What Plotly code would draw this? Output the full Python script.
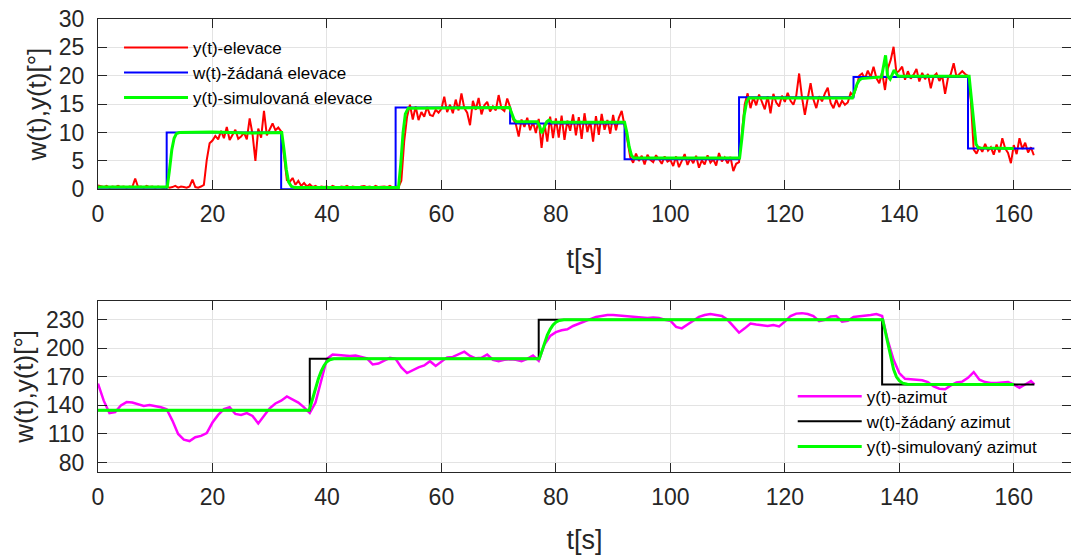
import numpy as np
import plotly.graph_objects as go

# ---------------- elevation (top panel) ----------------
t_elev = np.arange(0, 164, 0.5)  # sampling times [s]

y_elev = [
    0.7, 0.5, 0.4, 0.6, 0.3, 0.5, 0.4, 0.6, 0.4, 0.5, 0.3, 0.5, 0.4, 1.9, 0.4, 0.5, 0.3, 0.6, 0.4, 0.5,
    0.3, 0.5, 0.4, 0.2, 0.5, 0.3, 0.4, 0.6, 0.3, 0.5, 0.4, 0.3, 0.5, 1.7, 0.4, 0.3, 0.5, 0.8, 5.2, 8.1,
    8.6, 9.4, 8.8, 10.3, 9.0, 11.0, 8.7, 9.6, 10.5, 8.9, 9.3, 10.0, 8.8, 12.5, 9.7, 5.0, 10.7, 9.1, 13.8, 9.5,
    10.5, 11.6, 10.4, 10.9, 10.2, 6.3, 1.6, 1.3, 2.0, 0.8, 1.5, 0.6, 1.1, 0.5, 0.9, 0.4, 0.6, 0.3, 0.5, 0.4,
    0.5, 0.3, 0.6, 0.4, 0.3, 0.5, 0.4, 0.6, 0.3, 0.5, 0.4, 0.3, 0.5, 0.6, 0.4, 0.5, 0.3, 0.6, 0.4, 0.5,
    0.5, 0.4, 0.6, 0.3, 0.5, 0.4, 1.5, 8.5, 12.8, 14.9, 12.3, 14.6, 12.2, 13.6, 12.8, 14.5, 13.1, 12.9, 14.0, 13.5,
    14.2, 16.3, 13.6, 14.9, 13.4, 15.8, 13.9, 16.9, 14.3, 13.5, 11.3, 15.6, 14.0, 16.1, 13.2, 14.8, 15.4, 13.7, 14.6, 13.9,
    16.6, 14.2, 13.8, 16.0, 14.5, 12.4, 11.5, 9.3, 12.3, 11.0, 12.6, 10.4, 11.9, 9.9, 12.4, 7.3, 11.6, 8.4, 12.8, 9.0,
    12.5, 9.1, 13.0, 8.7, 12.1, 10.3, 13.2, 9.5, 12.7, 8.9, 13.4, 10.1, 12.0, 8.4, 12.9, 9.6, 13.3, 10.5, 12.2, 9.8,
    13.1, 10.4, 12.6, 13.8, 11.5, 8.6, 5.6, 4.7, 6.3, 5.0, 5.9, 4.4, 6.1, 5.2, 4.8, 6.0, 5.3, 4.5, 5.8, 4.9,
    5.2, 4.1, 5.8, 3.9, 5.0, 6.2, 4.3, 5.5, 4.6, 5.9, 3.8, 5.1, 4.4, 6.0, 4.7, 5.3, 4.2, 6.4, 4.9, 5.6,
    4.6, 5.7, 3.2, 4.5, 4.8, 10.5, 15.0, 16.9, 14.3, 16.2, 14.8, 16.7, 15.2, 14.1, 16.4, 13.4, 16.8, 15.3, 14.6, 16.5,
    15.4, 17.0, 15.6, 14.9, 16.5, 20.4, 16.2, 13.1, 16.0, 18.7, 15.8, 14.3, 16.4, 15.5, 16.9, 17.9, 15.2, 14.3, 15.8, 14.5,
    15.6, 14.9, 15.3, 17.0, 16.5, 18.0, 20.0, 20.4, 19.5, 20.9, 19.8, 21.6, 19.6, 18.7, 20.6, 17.5, 21.3, 22.8, 25.1, 20.5,
    20.9, 21.6, 19.3, 20.8, 19.5, 20.2, 21.2, 19.0, 20.5, 19.4, 20.3, 17.8, 19.9, 20.4, 19.1, 20.0, 16.8, 19.6, 20.3, 22.2,
    19.8, 20.4, 20.8, 20.3, 20.0, 15.7, 7.0, 6.3, 7.5, 6.6, 8.0, 6.8, 7.4, 6.1, 7.9, 6.5, 9.0, 7.2, 6.4, 4.6,
    7.8, 6.2, 9.0, 7.1, 8.2, 6.5, 7.4, 6.0,
]

# setpoint steps (held until the next time)
t_w_elev = [0, 12, 32, 52, 72, 92, 112, 132, 152, 163.6]
w_elev = [0, 10, 0, 14.4, 11.6, 5.3, 16.2, 19.8, 7.2, 7.2]

# simulated model response
t_sim_elev = [0, 12.1, 12.5, 12.9, 13.3, 13.7, 14.2, 20, 26, 32.1, 32.5, 32.9, 33.3, 33.8, 34.4,
              52.5, 52.9, 53.3, 53.7, 54.2, 71.9, 72.3, 72.7, 73.1, 76.8, 77.2, 77.5, 77.9, 78.4,
              78.8, 79.3, 92.0, 92.4, 92.8, 93.2, 93.6, 112.1, 112.5, 112.9, 113.3, 113.7, 131.8,
              132.2, 132.6, 133.0, 133.4, 136.9, 137.2, 137.6, 137.95, 138.4, 139.1, 139.8, 152.2,
              152.6, 153.0, 153.4, 153.8, 160]
sim_elev = [0.4, 0.4, 3.5, 7.0, 9.0, 9.8, 10.0, 10.1, 9.9, 10.0, 7.0, 3.5, 1.3, 0.5, 0.3,
            0.3, 4.5, 10.0, 13.3, 14.3, 14.4, 13.3, 12.3, 11.9, 11.9, 11.0, 9.9, 10.8, 11.9,
            12.2, 11.8, 11.8, 10.0, 7.5, 6.0, 5.5, 5.5, 9.0, 13.0, 15.3, 16.1, 16.1,
            17.2, 18.5, 19.2, 19.5, 19.8, 21.5, 23.6, 20.0, 19.4, 21.0, 19.9, 19.9,
            16.0, 11.0, 8.0, 7.3, 7.2]

# ---------------- azimuth (bottom panel) ----------------
t_az = list(range(164)) + [163.6]
y_az = [
    163, 145, 132, 133, 140, 143.5, 143, 141, 139.5, 140.5,
    139.5, 138, 136, 124, 110, 104, 102.5, 106.5, 108, 111,
    122, 130, 136, 138, 131, 130, 132, 129, 121, 129,
    137, 142, 145, 149.5, 146, 143, 138, 132, 143, 165,
    189, 193.5, 193, 192.5, 192, 192.5, 191, 189.5, 183, 184,
    187, 190, 189, 180, 174, 177, 180, 182, 186.5, 181.5,
    186, 190.5, 191, 194, 196.5, 192, 189.5, 190, 193.5, 188,
    186.5, 188, 188.5, 188, 186.5, 189, 192.5, 187, 204, 213,
    217, 219, 220, 223.5, 226, 228, 230.5, 233, 234, 235,
    235, 234.5, 234, 233.5, 233, 232.5, 232, 232.5, 232, 230,
    229, 222.5, 221, 225, 229, 233, 235, 236, 235, 234,
    230, 223, 216.5, 221, 226, 225, 224, 223.5, 224.5, 223,
    228, 234, 236.5, 237, 236, 234, 228.5, 230, 233.5, 234,
    228, 229, 233, 233.5, 234, 235, 236, 234, 208, 188,
    174, 168, 167.5, 167, 166.5, 164.5, 160, 157.5, 157, 161,
    164, 165, 169, 175, 167, 164.5, 163.5, 163.5, 164, 164.5,
    162, 158.5, 162, 165.5, 162,
]

t_w_az = [0, 37, 77, 137, 163.6]
w_az = [135, 189, 230, 162, 162]

t_sim_az = [0, 36.9, 37.5, 38, 38.5, 39, 39.5, 40, 40.5, 41.2, 77.1, 77.5, 78, 78.5, 79, 79.5,
            80, 80.6, 81.4, 137.1, 137.5, 138, 138.5, 139, 139.5, 140, 140.6, 141.4, 160]
sim_az = [135, 135, 147, 158, 168, 176, 182, 186, 188, 189, 189, 196, 206, 214, 220, 224.5,
          227.5, 229.3, 230, 230, 219, 204, 190, 178, 170, 166, 163.4, 162.3, 162]

x_ticks = [0, 20, 40, 60, 80, 100, 120, 140, 160]
elev_ticks = [0, 5, 10, 15, 20, 25, 30]
az_ticks = [80, 110, 140, 170, 200, 230]

FONT = "Liberation Sans"
AX_COL = "#262626"
GRID_COL = "#e3e3e3"

fig = go.Figure()

fig.add_trace(go.Scatter(x=t_elev, y=y_elev, mode="lines", name="y(t)-elevace",
                         line=dict(color="#ff0000", width=2), xaxis="x", yaxis="y", legend="legend"))
fig.add_trace(go.Scatter(x=t_w_elev, y=w_elev, mode="lines", name="w(t)-žádaná elevace",
                         line=dict(color="#0000ff", width=2, shape="hv"), xaxis="x", yaxis="y", legend="legend"))
fig.add_trace(go.Scatter(x=t_sim_elev, y=sim_elev, mode="lines", name="y(t)-simulovaná elevace",
                         line=dict(color="#00ff00", width=3), xaxis="x", yaxis="y", legend="legend"))

fig.add_trace(go.Scatter(x=t_az, y=y_az, mode="lines", name="y(t)-azimut",
                         line=dict(color="#ff00ff", width=2.5), xaxis="x2", yaxis="y2", legend="legend2"))
fig.add_trace(go.Scatter(x=t_w_az, y=w_az, mode="lines", name="w(t)-žádaný azimut",
                         line=dict(color="#000000", width=2, shape="hv"), xaxis="x2", yaxis="y2", legend="legend2"))
fig.add_trace(go.Scatter(x=t_sim_az, y=sim_az, mode="lines", name="y(t)-simulovaný azimut",
                         line=dict(color="#00ff00", width=3), xaxis="x2", yaxis="y2", legend="legend2"))

common_x = dict(range=[0, 170], tickvals=x_ticks, showgrid=True, gridcolor=GRID_COL, gridwidth=1,
                showline=True, linecolor=AX_COL, linewidth=1, mirror="ticks", ticks="inside",
                ticklen=9, tickcolor=AX_COL, zeroline=False, ticklabelstandoff=4,
                tickfont=dict(family=FONT, size=23, color=AX_COL),
                title=dict(text="t[s]", font=dict(family=FONT, size=27, color=AX_COL), standoff=23))
common_y = dict(showgrid=True, gridcolor=GRID_COL, gridwidth=1, showline=True, linecolor=AX_COL,
                linewidth=1, mirror="ticks", ticks="inside", ticklen=9, tickcolor=AX_COL,
                zeroline=False, ticklabelstandoff=8,
                tickfont=dict(family=FONT, size=23, color=AX_COL),
                title=dict(text="w(t),y(t)[°]", font=dict(family=FONT, size=26, color=AX_COL), standoff=4))

legend_common = dict(bgcolor="rgba(0,0,0,0)", borderwidth=0, itemwidth=64,
                     font=dict(family=FONT, size=17, color="#000000"),
                     xanchor="left", yanchor="top", tracegroupgap=0, itemclick=False)

fig.update_layout(
    width=1071, height=555,
    margin=dict(l=98, r=0, t=19, b=83),
    paper_bgcolor="white", plot_bgcolor="white",
    showlegend=True,
    xaxis=dict(common_x, domain=[0, 1], anchor="y"),
    yaxis=dict(common_y, domain=[0.624, 1], range=[0, 30], tickvals=elev_ticks, anchor="x"),
    xaxis2=dict(common_x, domain=[0, 1], anchor="y2"),
    yaxis2=dict(common_y, domain=[0, 0.378], range=[70, 250], tickvals=az_ticks, anchor="x2"),
    legend=dict(legend_common, x=0.0216, y=0.976),
    legend2=dict(legend_common, x=0.714, y=0.206),
)

fig.write_html("out.html")
